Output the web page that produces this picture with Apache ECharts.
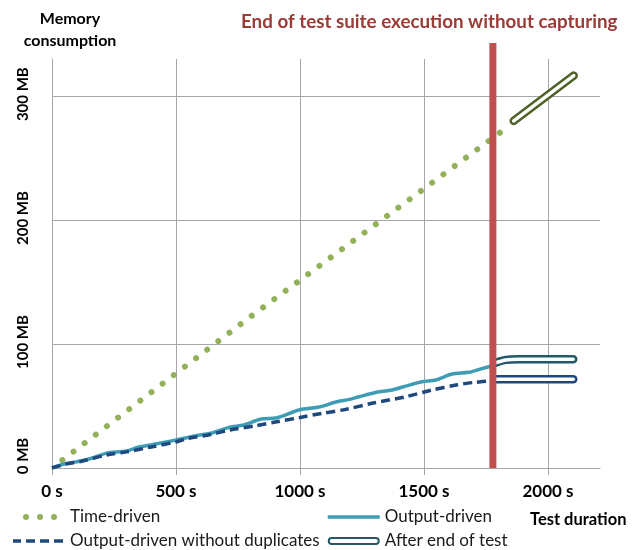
<!DOCTYPE html>
<html>
<head>
<meta charset="utf-8">
<script src="https://cdn.jsdelivr.net/npm/echarts@6/dist/echarts.min.js"></script>
<style>
  html, body { margin: 0; padding: 0; background: #fff; }
  #chart { width: 634px; height: 550px; }
</style>
</head>
<body>
<div id="chart"></div>
<script>
// tick values
var xTicks = [0, 500, 1000, 1500, 2000];
var yTicks = [0, 100, 200, 300];

// [seconds, MB]
var timeDriven = [[0, 0], [800, 122], [1850, 277]];
var outputDriven = [[0, 0], [50, 3.2], [120, 5.9], [170, 8.5], [220, 12], [300, 13.7], [350, 17], [400, 18.6],
    [444, 20.4], [500, 22.6], [580, 26], [640, 28], [714, 32.8], [774, 34.7], [843, 39.5], [907, 40.6],
    [996, 46.8], [1077, 49.2], [1145, 53.2], [1200, 55.4], [1238, 57.5], [1319, 61.5], [1371, 62.9],
    [1427, 66.1], [1492, 69.6], [1548, 71], [1613, 75.8], [1681, 77.2], [1730, 80], [1785, 83]];
var outputNoDup = [[0, 0], [50, 3], [120, 5.5], [220, 10.5], [300, 13], [400, 17], [500, 21], [552, 24],
    [640, 27], [714, 30.6], [823, 34.1], [907, 37.3], [996, 40.6], [1089, 44.1], [1185, 47.3], [1290, 52.2],
    [1427, 57.5], [1532, 62.9], [1629, 66.9], [1700, 69], [1785, 70.5]];

// after end of test
var afterTime = [[1862, 280], [2104, 316.6]];
var afterOutput = [[1790, 85], [1830, 87.2], [1880, 87.8], [2102, 87.8]];
var afterNoDup = [[1790, 71.6], [2102, 71.6]];

// end of test suite execution without capturing
var endOfTest = [[1778, 0], [1778, 343]];

var font = 'Lato, "Open Sans", sans-serif';
var gridColor = '#a6a6a6';

function band(name, data, color) {
    return [
        {
            name: name, type: 'line', data: data, symbol: 'none', smooth: 0.3, z: 3, silent: true,
            lineStyle: { color: color, width: 8.5, cap: 'round' }, itemStyle: { color: color }
        },
        {
            name: name + ' inner', type: 'line', data: data, symbol: 'none', smooth: 0.3, z: 3, silent: true,
            lineStyle: { color: '#fff', width: 3.5, cap: 'round' }
        }
    ];
}

var legendText = { fontSize: 17, color: '#1a1a1a', lineHeight: 18, fontFamily: font };

var option = {
    animation: false,
    textStyle: { fontFamily: font },
    title: [
        {
            text: 'End of test suite execution without capturing',
            left: 236, top: 7,
            textStyle: { color: '#9b3a36', fontSize: 18.8, fontWeight: 'bold', fontFamily: font }
        },
        {
            text: 'Memory\nconsumption',
            left: 65, top: 3, textAlign: 'center',
            textStyle: { color: '#000', fontSize: 16, fontWeight: 'bold', lineHeight: 22, fontFamily: font }
        },
        {
            text: 'Test duration',
            left: 525, top: 506,
            textStyle: { color: '#000', fontSize: 16.5, fontWeight: 'bold', fontFamily: font }
        }
    ],
    grid: {
        left: 52,
        right: 34,
        top: 59,
        bottom: 82
    },
    legend: [
        {
            orient: 'vertical', left: 10, bottom: 0, padding: 0,
            itemWidth: 52, itemHeight: 8, itemGap: 6,
            itemStyle: { opacity: 0 },
            textStyle: legendText,
            data: [
                { name: 'Time-driven', lineStyle: { width: 6 } },
                { name: 'Output-driven without duplicates', lineStyle: { width: 3.5 } }
            ]
        },
        {
            orient: 'vertical', left: 326, bottom: 0, padding: 0,
            itemWidth: 52, itemHeight: 8, itemGap: 6,
            itemStyle: { opacity: 0 },
            textStyle: legendText,
            data: [
                { name: 'Output-driven', lineStyle: { width: 3.5 } },
                {
                    name: 'After end of test',
                    icon: 'path://M4,0 H48 A4,4 0 0 1 48,8 H4 A4,4 0 0 1 4,0 Z M4,2 A2,2 0 0 0 4,6 H48 A2,2 0 0 0 48,2 Z',
                    itemStyle: { color: '#215968', opacity: 1 }
                }
            ]
        }
    ],
    xAxis: {
        type: 'value',
        min: 0,
        max: 2210,
        axisLine: { lineStyle: { color: gridColor, width: 1 } },
        axisTick: { show: true, length: 7, customValues: xTicks, lineStyle: { color: gridColor } },
        splitLine: { show: true, lineStyle: { color: gridColor, width: 1 } },
        axisLabel: {
            customValues: xTicks,
            margin: 15,
            fontSize: 17,
            fontWeight: 'bold',
            color: '#000',
            fontFamily: font,
            formatter: function (v) { return v + ' s'; }
        }
    },
    yAxis: {
        type: 'value',
        min: 0,
        max: 330,
        axisLine: { show: true, lineStyle: { color: gridColor, width: 1 } },
        axisTick: { show: false, customValues: yTicks },
        splitLine: { show: true, lineStyle: { color: gridColor, width: 1 } },
        axisLabel: {
            customValues: yTicks,
            rotate: 90,
            margin: 21,
            fontSize: 15,
            fontWeight: 'bold',
            color: '#000',
            fontFamily: font,
            formatter: function (v) {
                return v === 0 ? '{z|0 MB}' : '{n|' + v + ' MB}';
            },
            rich: {
                n: { fontSize: 15, fontWeight: 'bold', fontFamily: font, padding: [0, 0, 0, 4] },
                z: { fontSize: 15, fontWeight: 'bold', fontFamily: font, padding: [0, 0, 0, 24] }
            }
        }
    },
    series: [
        {
            name: 'Time-driven', type: 'line', data: timeDriven, symbol: 'none', z: 2,
            lineStyle: { color: '#92b158', width: 6, type: [0.01, 14], dashOffset: 1, cap: 'round' },
            itemStyle: { color: '#92b158' }
        },
        {
            name: 'Output-driven', type: 'line', data: outputDriven, symbol: 'none', smooth: 0.3, z: 2,
            lineStyle: { color: '#3e9db5', width: 3.5 },
            itemStyle: { color: '#3e9db5' }
        },
        {
            name: 'Output-driven without duplicates', type: 'line', data: outputNoDup, symbol: 'none', smooth: 0.3, z: 2,
            lineStyle: { color: '#1f497d', width: 3.5, type: [9, 5] },
            itemStyle: { color: '#1f497d' }
        }
    ]
        .concat(band('After time', afterTime, '#4f6228'))
        .concat(band('After end of test', afterOutput, '#215968'))
        .concat(band('After no dup', afterNoDup, '#1f497d'))
        .concat([{
            name: 'End of test', type: 'line', data: endOfTest, symbol: 'none', clip: false, z: 4, silent: true,
            lineStyle: { color: '#c0504d', width: 7 }
        }])
};

var chart = echarts.init(document.getElementById('chart'));
chart.setOption(option);
</script>
</body>
</html>
